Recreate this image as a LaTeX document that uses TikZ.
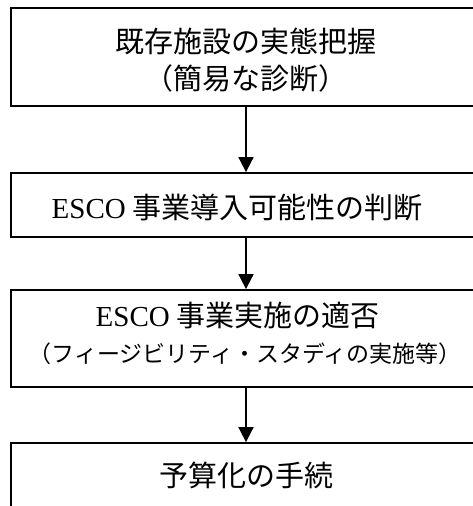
\documentclass[tikz,border=0pt]{standalone}
\usepackage{fontspec}
\setmainfont{Noto Sans CJK JP}
\newfontfamily\latinserif{Liberation Serif}
\usetikzlibrary{arrows.meta}
\begin{document}
\begin{tikzpicture}[x=1pt,y=-1pt,
  box/.style={draw=black, line width=1.8pt, minimum width=470pt, inner sep=0pt},
  txt/.style={inner sep=0pt, text height=25.5pt, text depth=3.5pt, font=\fontsize{29}{35}\selectfont},
  smalltxt/.style={inner sep=0pt, text height=20.2pt, text depth=2.8pt, font=\fontsize{23}{28}\selectfont},
  flow/.style={line width=1.8pt, -{Triangle[width=15pt,length=15pt]}}]
\clip (0,0) rectangle (473,506);
\node[box, minimum height=98pt] (b1) at (246,57) {};
\node[box, minimum height=64pt] (b2) at (246,205) {};
\node[box, minimum height=97pt] (b3) at (246,338.5) {};
\node[box, minimum height=80pt] (b4) at (246,483) {};
\node[txt] (t1a) at (246,41) {既存施設の実態把握};
\node[txt] (t1b) at (246,78) {（簡易な診断）};
\node[txt] (t2) at (237,207) {{\latinserif ESCO} 事業導入可能性の判断};
\node[txt] (t3a) at (237.5,315) {{\latinserif ESCO} 事業実施の適否};
\node[smalltxt] (t3b) at (245,354) {（フィージビリティ・スタディの実施等）};
\node[txt] (t4) at (246,475) {予算化の手続};
\draw[flow] (b1) -- (b2);
\draw[flow] (b2) -- (b3);
\draw[flow] (b3) -- (b4);
\end{tikzpicture}
\end{document}
